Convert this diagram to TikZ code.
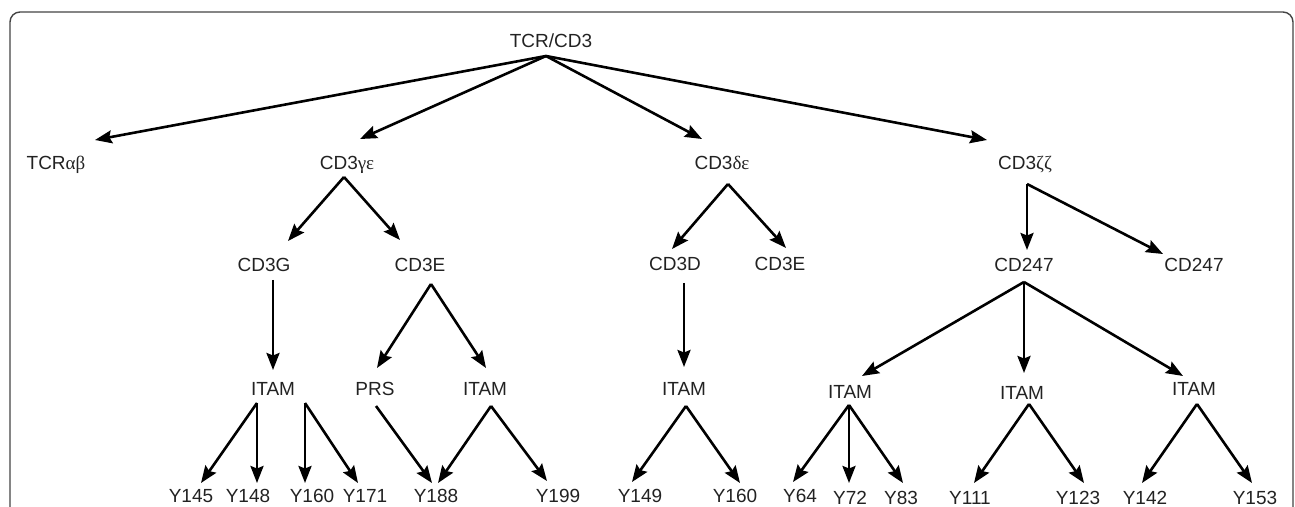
\documentclass[tikz,border=0pt]{standalone}
\usepackage{fontspec}
\setmainfont{Liberation Sans}
\newfontfamily\grk{Liberation Serif}
\usetikzlibrary{arrows.meta}
\definecolor{ink}{HTML}{222222}
\definecolor{framec}{HTML}{444444}
\tikzset{
  lbl/.style={font=\fontsize{19bp}{22bp}\selectfont, text=ink, inner sep=0pt, anchor=base},
  arr/.style={line width=2.6bp, black, -{Stealth[length=17bp,width=13bp,inset=2.5bp]}},
}
% connector between two labels: \conn{from}{offset}{to}{offset}
\newcommand\conn[4]{\draw[arr] ([shift={(#2)}]#1.base) -- ([shift={(#4)}]#3.base);}
\begin{document}
\begin{tikzpicture}[x=1bp,y=-1bp]
\useasboundingbox (0,0) rectangle (1295,507);
\clip (0,0) rectangle (1295,507);
\draw[framec, line width=1.4bp, rounded corners=10bp] (10,12) rectangle (1293,540);

% level 0
\node[lbl] (tcr) at (551,48) {TCR/CD3};
% level 1
\node[lbl] (tab) at (56,170) {TCR{\grk αβ}};
\node[lbl] (cge) at (347,170) {CD3{\grk γε}};
\node[lbl] (cde) at (722,170) {CD3{\grk δε}};
\node[lbl] (czz) at (1025,170) {CD3{\grk ζζ}};
% level 2
\node[lbl] (cg) at (264,272) {CD3G};
\node[lbl] (ce1) at (420,272) {CD3E};
\node[lbl] (cd) at (675,271) {CD3D};
\node[lbl] (ce2) at (780,271) {CD3E};
\node[lbl] (z1) at (1024,272) {CD247};
\node[lbl] (z2) at (1194,272) {CD247};
% level 3
\node[lbl] (itam1) at (273,395) {ITAM};
\node[lbl] (prs) at (375,395) {PRS};
\node[lbl] (itam2) at (485,395) {ITAM};
\node[lbl] (itam3) at (684,395) {ITAM};
\node[lbl] (itam4) at (850,398) {ITAM};
\node[lbl] (itam5) at (1022,399) {ITAM};
\node[lbl] (itam6) at (1194,395) {ITAM};
% level 4
\node[lbl] (y145) at (191,502) {Y145};
\node[lbl] (y148) at (248,502) {Y148};
\node[lbl] (y160a) at (312,502) {Y160};
\node[lbl] (y171) at (365,502) {Y171};
\node[lbl] (y188) at (436,502) {Y188};
\node[lbl] (y199) at (558,502) {Y199};
\node[lbl] (y149) at (640,502) {Y149};
\node[lbl] (y160b) at (735,502) {Y160};
\node[lbl] (y64) at (800,502) {Y64};
\node[lbl] (y72) at (850,504) {Y72};
\node[lbl] (y83) at (901,504) {Y83};
\node[lbl] (y111) at (970,504) {Y111};
\node[lbl] (y123) at (1078,504) {Y123};
\node[lbl] (y142) at (1145,504) {Y142};
\node[lbl] (y153) at (1255,504) {Y153};

% connectors
\conn{tcr}{-5,8}{tab}{39,-30}
\conn{tcr}{-5,8}{cge}{13,-31}
\conn{tcr}{-5,8}{cde}{-20,-31}
\conn{tcr}{-5,8}{czz}{-38,-30}

\conn{cge}{-3,7}{cg}{24,-31}
\conn{cge}{-3,7}{ce1}{-20,-32}
\conn{cde}{6,14}{cd}{-3,-22}
\conn{cde}{6,14}{ce2}{6,-23}
\conn{czz}{2,14}{z1}{3,-22}
\conn{czz}{2,14}{z2}{-31,-18}

\conn{cg}{9,8}{itam1}{0,-25}
\conn{ce1}{11,12}{prs}{2,-27}
\conn{ce1}{11,12}{itam2}{1,-27}
\conn{cd}{9,12}{itam3}{0,-28}
\conn{z1}{0,10}{itam4}{12,-22}
\conn{z1}{0,10}{itam5}{2,-26}
\conn{z1}{0,10}{itam6}{-11,-19}

\conn{itam1}{-16,8}{y145}{10,-19}
\conn{itam1}{-16,8}{y148}{9,-19}
\conn{itam1}{32,8}{y160a}{-7,-19}
\conn{itam1}{32,8}{y171}{-7,-19}
\conn{prs}{1,11}{y188}{-4,-19}
\conn{itam2}{6,11}{y188}{2,-19}
\conn{itam2}{6,11}{y199}{-11,-21}
\conn{itam3}{2,11}{y149}{-8,-20}
\conn{itam3}{2,11}{y160b}{5,-19}
\conn{itam4}{-1,7}{y64}{-7,-20}
\conn{itam4}{-1,7}{y72}{-1,-21}
\conn{itam4}{-1,7}{y83}{2,-21}
\conn{itam5}{7,5}{y111}{4,-21}
\conn{itam5}{7,5}{y123}{6,-21}
\conn{itam6}{3,9}{y142}{-3,-21}
\conn{itam6}{3,9}{y153}{-3,-21}
\end{tikzpicture}
\end{document}
